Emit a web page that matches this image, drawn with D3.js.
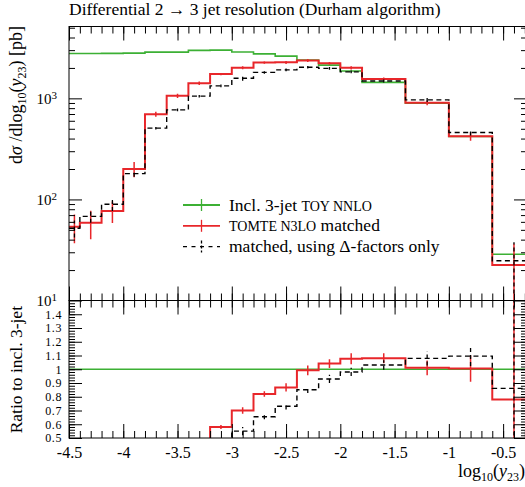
<!DOCTYPE html>
<html>
<head>
<meta charset="utf-8">
<script src="https://cdn.jsdelivr.net/npm/d3@7"></script>
<style>
body{margin:0;background:#fff}
svg text{font-family:"Liberation Serif","DejaVu Serif",serif;fill:#000}
</style>
</head>
<body>
<div class="plot"></div>
<script>
// bin edges of log10(y23)
const binEdges = [-4.5,-4.4,-4.2,-4.0,-3.8,-3.6,-3.4,-3.2,-3.0,-2.8,-2.6,-2.4,-2.2,-2.0,-1.8,-1.4,-1.0,-0.6,-0.2]
// Incl. 3-jet TOY NNLO
const toyNNLO = [2777,2777,2788,2801,2867,2867,2987,3000,2873,2758,2617,2389,2132,1864,1440,896,419,28.7]
// TOMTE N3LO matched
const tomte = [53.8,58.9,76.9,200,698,1059,1414,1740,2011,2262,2270,2370,2220,2005,1555,905,421,22.4]
const tomteErr = [17,18.5,18.5,34,40,53,56,45,68,56,77,85,69,74,52,49,40,14]
const tomteRatioErr = [0.3,0.3,0.3,0.1,0.03,0.02,0.02,0.015,0.024,0.02,0.03,0.036,0.032,0.04,0.036,0.054,0.095,0.8]
// matched, using Delta-factors only
const deltaOnly = [51.9,67.9,89.7,180,507,769,1051,1330,1580,1806,1913,2033,1981,1827,1485,967,459,24.7]
const deltaErr = [10,9,13,12,15,23,30,40,86,50,63,57,64,56,49,47,30,13]
const deltaRatioErr = [0.3,0.3,0.3,0.1,0.03,0.03,0.03,0.03,0.03,0.018,0.024,0.024,0.03,0.03,0.034,0.052,0.072,0.8]
// ticks
const xMajorTicks = [-4.5,-4,-3.5,-3,-2.5,-2,-1.5,-1,-0.5]
const xMinorTicks = d3.range(-45,-2).map(i => i/10)
const mainMajorTicks = [10,100,1000]
const mainMinorTicks = [20,30,40,50,60,70,80,90,200,300,400,500,600,700,800,900,2000,3000,4000,5000]
const ratioMajorTicks = [0.5,0.6,0.7,0.8,0.9,1,1.1,1.2,1.3,1.4]
const ratioMinorTicks = d3.range(25,75).map(i => i/50)

const green = "#3cb034", red = "#e8262a", dash = "5,3.5"

let x = d3.scaleLinear().domain([-4.5,-0.28]).range([69,527])
let yMain = d3.scaleLog().domain([10,5140]).range([300.5,26.5])
let yRatio = d3.scaleLinear().domain([0.5,1.5]).range([438,300.5])

let svg = d3.select(".plot").append("svg")
  .attr("width",525).attr("height",487)
  .style("font-family","'Liberation Serif','DejaVu Serif',serif")

let defs = svg.append("defs")
defs.append("clipPath").attr("id","clipMain").append("rect")
  .attr("x",69).attr("y",26.5).attr("width",458).attr("height",274)
defs.append("clipPath").attr("id","clipRatio").append("rect")
  .attr("x",69).attr("y",300.5).attr("width",458).attr("height",137.5)

// title
svg.append("text").attr("x",69).attr("y",15).style("font-size","17.5px")
  .text("Differential 2 \u2192 3 jet resolution (Durham algorithm)")

// helpers
function stepPoints(vals){
  let pts = vals.map((v,i) => [binEdges[i], v])
  pts.push([binEdges[binEdges.length-1], vals[vals.length-1]])
  return pts
}
let centers = binEdges.slice(0,-1).map((e,i) => (e + binEdges[i+1]) / 2)

function drawAxes(y, g, majors, minors, top, bottom){
  g.append("g").attr("transform","translate(69,0)")
    .call(d3.axisLeft(y).tickValues(minors).tickSize(-6).tickFormat(""))
  g.append("g").attr("transform","translate(527,0)")
    .call(d3.axisRight(y).tickValues(minors).tickSize(-6).tickFormat(""))
  g.append("g").attr("transform","translate(527,0)")
    .call(d3.axisRight(y).tickValues(majors).tickSize(-13).tickFormat(""))
  // top/bottom x ticks
  g.append("g").attr("transform","translate(0," + top + ")")
    .call(d3.axisTop(x).tickValues(xMinorTicks).tickSize(-7).tickFormat(""))
  g.append("g").attr("transform","translate(0," + top + ")")
    .call(d3.axisTop(x).tickValues(xMajorTicks).tickSize(-14).tickFormat(""))
  g.append("g").attr("transform","translate(0," + bottom + ")")
    .call(d3.axisBottom(x).tickValues(xMinorTicks).tickSize(-7).tickFormat(""))
  g.append("g").attr("transform","translate(0," + bottom + ")")
    .call(d3.axisBottom(x).tickValues(xMajorTicks).tickSize(-14).tickFormat(""))
  g.selectAll(".domain").remove()
  g.selectAll(".tick line").attr("stroke","#000").attr("stroke-width",1)
}

function drawSeries(g, clip, y, vals, errs, color, width, dashed){
  let line = d3.line()
    .x(d => x(d[0]))
    .y(d => y(Math.max(d[1],1e-3)))
    .curve(d3.curveStepAfter)
  let s = g.append("g").attr("clip-path","url(#" + clip + ")")
  s.append("path").datum(stepPoints(vals))
    .attr("d",line).attr("fill","none")
    .attr("stroke",color).attr("stroke-width",width)
    .attr("stroke-dasharray",dashed ? dash : null)
  if(errs){
    s.selectAll(".err").data(vals).enter().append("line")
      .attr("class","err")
      .attr("x1",(d,i) => x(centers[i])).attr("x2",(d,i) => x(centers[i]))
      .attr("y1",(d,i) => y(Math.max(d - errs[i],1e-3)))
      .attr("y2",(d,i) => y(d + errs[i]))
      .attr("stroke",color).attr("stroke-width",dashed ? 1.3 : 1.5)
      .attr("stroke-dasharray",dashed ? "4,3" : null)
  }
}

// ---------- main panel ----------
let main = svg.append("g")
drawSeries(main,"clipMain",yMain,toyNNLO,null,green,1.6,false)
drawSeries(main,"clipMain",yMain,tomte,tomteErr,red,2,false)
drawSeries(main,"clipMain",yMain,deltaOnly,deltaErr,"#000",1.4,true)

let mainAx = svg.append("g")
drawAxes(yMain, mainAx, mainMajorTicks, mainMinorTicks, 26.5, 300.5)
let mainLeft = mainAx.append("g").attr("transform","translate(69,0)")
  .call(d3.axisLeft(yMain).tickValues(mainMajorTicks).tickSize(-13).tickPadding(12).tickFormat(""))
mainLeft.select(".domain").remove()
mainLeft.selectAll(".tick line").attr("stroke","#000")
mainLeft.selectAll(".tick text").each(function(d){
  let t = d3.select(this).style("font-size","15px").attr("dy","0.35em")
  t.append("tspan").text("10")
  t.append("tspan").attr("dy","-0.45em").style("font-size","11px").text(Math.round(Math.log10(d)))
})

// ---------- ratio panel ----------
let ratio = svg.append("g")
drawSeries(ratio,"clipRatio",yRatio,toyNNLO.map(() => 1),null,green,1.6,false)
drawSeries(ratio,"clipRatio",yRatio,tomte.map((v,i) => v / toyNNLO[i]),tomteRatioErr,red,2,false)
drawSeries(ratio,"clipRatio",yRatio,deltaOnly.map((v,i) => v / toyNNLO[i]),deltaRatioErr,"#000",1.4,true)

let ratioAx = svg.append("g")
drawAxes(yRatio, ratioAx, ratioMajorTicks, ratioMinorTicks, 300.5, 438)
let ratioLeft = ratioAx.append("g").attr("transform","translate(69,0)")
  .call(d3.axisLeft(yRatio).tickValues(ratioMajorTicks).tickSize(-13).tickPadding(7)
    .tickFormat(d => String(+d.toFixed(1))))
ratioLeft.select(".domain").remove()
ratioLeft.selectAll(".tick line").attr("stroke","#000")
ratioLeft.selectAll(".tick text").style("font-size","12px").style("letter-spacing","0.6px")

// x labels under the ratio panel
let xLab = svg.append("g").attr("transform","translate(0,438)")
  .call(d3.axisBottom(x).tickValues(xMajorTicks).tickSize(0).tickPadding(9)
    .tickFormat(d => String(d)))
xLab.select(".domain").remove()
xLab.selectAll(".tick text").style("font-size","16px")

// frames
svg.append("rect").attr("x",69).attr("y",26.5).attr("width",458).attr("height",274)
  .attr("fill","none").attr("stroke","#000")
svg.append("rect").attr("x",69).attr("y",300.5).attr("width",458).attr("height",137.5)
  .attr("fill","none").attr("stroke","#000")

// axis titles
let yt = svg.append("text").attr("transform","translate(22,26) rotate(-90)")
  .attr("text-anchor","end").style("font-size","18px")
yt.append("tspan").text("d")
yt.append("tspan").style("font-style","italic").text("\u03c3")
yt.append("tspan").text(" /dlog")
yt.append("tspan").attr("dy","4").style("font-size","12px").text("10")
yt.append("tspan").attr("dy","-4").text("(")
yt.append("tspan").style("font-style","italic").text("y")
yt.append("tspan").attr("dy","4").style("font-size","12px").text("23")
yt.append("tspan").attr("dy","-4").text(") [pb]")

svg.append("text").attr("transform","translate(22,306) rotate(-90)")
  .attr("text-anchor","end").style("font-size","17.5px").text("Ratio to incl. 3-jet")

let xt = svg.append("text").attr("x",525).attr("y",477)
  .attr("text-anchor","end").style("font-size","18px")
xt.append("tspan").text("log")
xt.append("tspan").attr("dy","4").style("font-size","12px").text("10")
xt.append("tspan").attr("dy","-4").text("(")
xt.append("tspan").style("font-style","italic").text("y")
xt.append("tspan").attr("dy","4").style("font-size","12px").text("23")
xt.append("tspan").attr("dy","-4").text(")")

// legend
let legendRows = [
  {color:green, dashed:false, parts:[["Incl. 3-jet ",17.5],["TOY NNLO",14]]},
  {color:red, dashed:false, parts:[["TOMTE N3LO",14],[" matched",17.5]]},
  {color:"#000", dashed:true, parts:[["matched, using \u0394-factors only",17.5]]}
]
let legend = svg.selectAll(".legend").data(legendRows).enter().append("g")
  .attr("class","legend")
  .attr("transform",(d,i) => "translate(183," + (205 + i*20.8) + ")")
legend.append("line").attr("x1",0).attr("x2",37).attr("y1",0).attr("y2",0)
  .attr("stroke",d => d.color).attr("stroke-width",d => d.dashed ? 1.4 : 1.8)
  .attr("stroke-dasharray",d => d.dashed ? "4,4.5" : null)
legend.append("line").attr("x1",18.5).attr("x2",18.5).attr("y1",-6).attr("y2",6)
  .attr("stroke",d => d.color).attr("stroke-width",1.3)
  .attr("stroke-dasharray",d => d.dashed ? "3,2" : null)
legend.append("text").attr("x",46).attr("y",5.5).style("font-size","17.5px")
  .each(function(d){
    let t = d3.select(this)
    d.parts.forEach(p => t.append("tspan").style("font-size",p[1] + "px").text(p[0]))
  })
</script>
</body>
</html>
